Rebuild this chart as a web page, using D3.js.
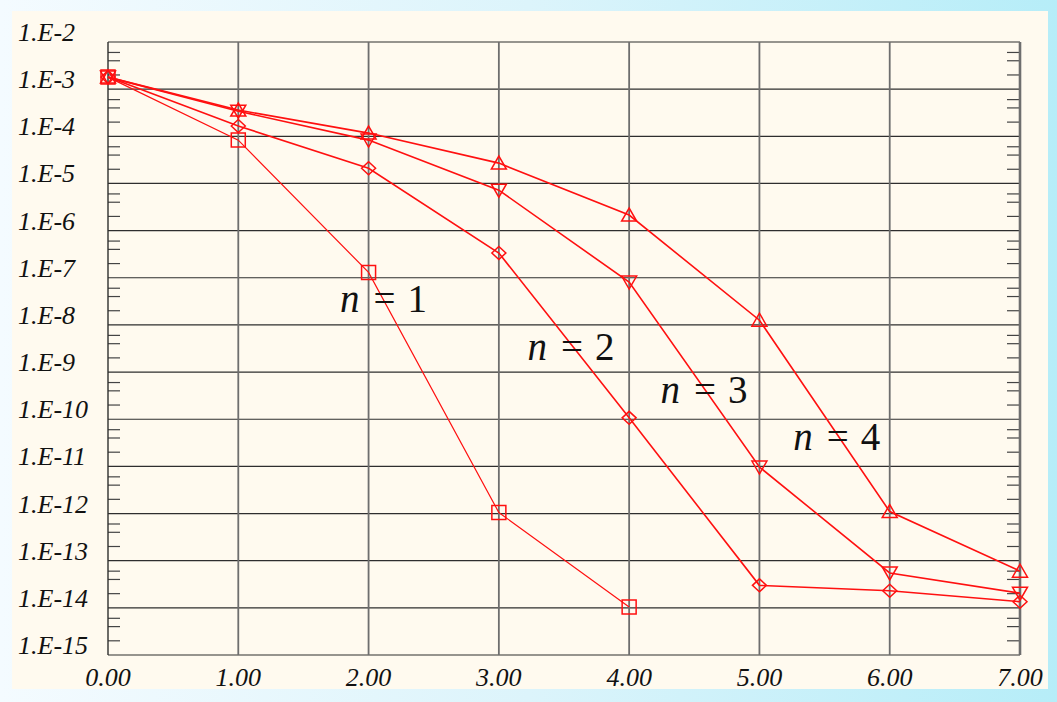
<!DOCTYPE html>
<html>
<head>
<meta charset="utf-8">
<script src="https://cdn.jsdelivr.net/npm/d3@7"></script>
<style>
  html, body { margin: 0; padding: 0; }
  body { width: 1057px; height: 702px; overflow: hidden; }
  text { font-family: "Liberation Serif", "Times New Roman", Times, serif; }
</style>
</head>
<body>
<script>
// values
const xs = [0, 1, 2, 3, 4, 5, 6, 7];
const n1 = [1.8e-3, 8.3e-5, 1.3e-7, 1.05e-12, 1.04e-14];
const n2 = [1.8e-3, 1.66e-4, 2.1e-5, 3.35e-7, 1.07e-10, 3.0e-14, 2.3e-14, 1.35e-14];
const n3 = [1.8e-3, 3.4e-4, 8.3e-5, 7.2e-6, 8.1e-8, 9.7e-12, 5.5e-14, 2.05e-14];
const n4 = [1.8e-3, 3.6e-4, 1.17e-4, 2.7e-5, 2.14e-6, 1.26e-8, 1.1e-12, 6.0e-14];
const seriesSymbols = ["square", "diamond", "down", "up"];
const xTicks = [0, 1, 2, 3, 4, 5, 6, 7];
const yDecades = d3.range(-2, -16, -1); // 1.E-2 .. 1.E-15
const minorMults = [6, 4, 2];
const labelDigits = ["1", "2", "3", "4"];
const labelX = [1.78, 3.22, 4.24, 5.26];
const labelY = [1.9e-8, 1.8e-9, 2.2e-10, 2.2e-11];

const W = 1057, H = 702;
const margin = { top: 42, right: 37, bottom: 47, left: 108 };

const svg = d3.select("body").append("svg")
    .attr("width", W).attr("height", H);

const defs = svg.append("defs");
const grad = defs.append("linearGradient").attr("id", "bg")
    .attr("x1", 0).attr("x2", 1).attr("y1", 0).attr("y2", 0);
grad.append("stop").attr("offset", 0).attr("stop-color", "#f4fbff");
grad.append("stop").attr("offset", 0.5).attr("stop-color", "#dcf4fb");
grad.append("stop").attr("offset", 1).attr("stop-color", "#b6edf8");

svg.append("rect").attr("width", W).attr("height", H).attr("fill", "url(#bg)");
svg.append("rect")
    .attr("x", 12).attr("y", 11)
    .attr("width", 1036).attr("height", 678)
    .attr("fill", "#fffaef");

const x = d3.scaleLinear().domain([0, 7]).range([margin.left, W - margin.right]);
const y = d3.scaleLog().domain([1e-2, 1e-15]).range([margin.top, H - margin.bottom]);

// horizontal grid
svg.append("g").selectAll("line")
    .data(yDecades)
    .join("line")
    .attr("x1", x(0)).attr("x2", x(7))
    .attr("y1", d => y(Math.pow(10, d))).attr("y2", d => y(Math.pow(10, d)))
    .attr("stroke", "#2e2e2e").attr("stroke-width", 1.2);

// minor ticks left & right
const minors = [];
yDecades.slice(1).forEach(d => minorMults.forEach(m => minors.push(m * Math.pow(10, d))));
const mg = svg.append("g").attr("stroke", "#444").attr("stroke-width", 1.2);
mg.selectAll(".ml").data(minors).join("line")
    .attr("x1", x(0)).attr("x2", x(0) + 12)
    .attr("y1", d => y(d)).attr("y2", d => y(d));
mg.selectAll(".mr").data(minors).join("line")
    .attr("x1", x(7) - 13).attr("x2", x(7))
    .attr("y1", d => y(d)).attr("y2", d => y(d));

// vertical grid
svg.append("g").selectAll("line")
    .data(xTicks)
    .join("line")
    .attr("x1", d => x(d)).attr("x2", d => x(d))
    .attr("y1", y(1e-2)).attr("y2", y(1e-15))
    .attr("stroke", d => d === 0 ? "#2e2e2e" : "#6e6e6e")
    .attr("stroke-width", d => d === 0 ? 1.4 : (d === 7 ? 2.6 : 1.8));

// y labels
svg.append("g")
    .attr("font-style", "italic")
    .attr("font-size", 26)
    .selectAll("text")
    .data(yDecades)
    .join("text")
    .attr("x", 18)
    .attr("y", d => y(Math.pow(10, d)) - 1)
    .attr("fill", "#111")
    .text(d => "1.E" + d);

// x labels
svg.append("g")
    .attr("font-style", "italic")
    .attr("font-size", 26)
    .selectAll("text")
    .data(xTicks)
    .join("text")
    .attr("x", d => x(d))
    .attr("y", 686)
    .attr("text-anchor", "middle")
    .attr("fill", "#111")
    .text(d => d.toFixed(2));

// series
const data = [n1, n2, n3, n4];
const line = d3.line().x((d, i) => x(xs[i])).y(d => y(d));
const symbolPath = {
  square: "M-7,-7H7V7H-7Z",
  diamond: "M-7,0L0,-6.5L7,0L0,6.5Z",
  down: "M-7.5,-6H7.5L0,7Z",
  up: "M-7.5,6H7.5L0,-7Z"
};

const sg = svg.append("g").selectAll("g")
    .data(data)
    .join("g");

sg.append("path")
    .attr("d", d => line(d))
    .attr("fill", "none")
    .attr("stroke", "#ff1010")
    .attr("stroke-width", (d, i) => i === 0 ? 1.2 : 1.6);

sg.each(function(vals, si) {
  d3.select(this).selectAll("path.m")
    .data(vals)
    .join("path")
    .attr("class", "m")
    .attr("transform", (d, i) => `translate(${x(xs[i])},${y(d)})`)
    .attr("d", symbolPath[seriesSymbols[si]])
    .attr("fill", "none")
    .attr("stroke", "#ff1010")
    .attr("stroke-width", 1.5);
});

// n = k labels
const lg = svg.append("g").selectAll("text")
    .data(labelDigits)
    .join("text")
    .attr("x", (d, i) => x(labelX[i]))
    .attr("y", (d, i) => y(labelY[i]))
    .attr("fill", "#111")
    .attr("font-size", 39);
lg.append("tspan").attr("font-style", "italic").text("n");
lg.append("tspan").attr("dx", 14).text("=");
lg.append("tspan").attr("dx", 12).text(d => d);
</script>
</body>
</html>
